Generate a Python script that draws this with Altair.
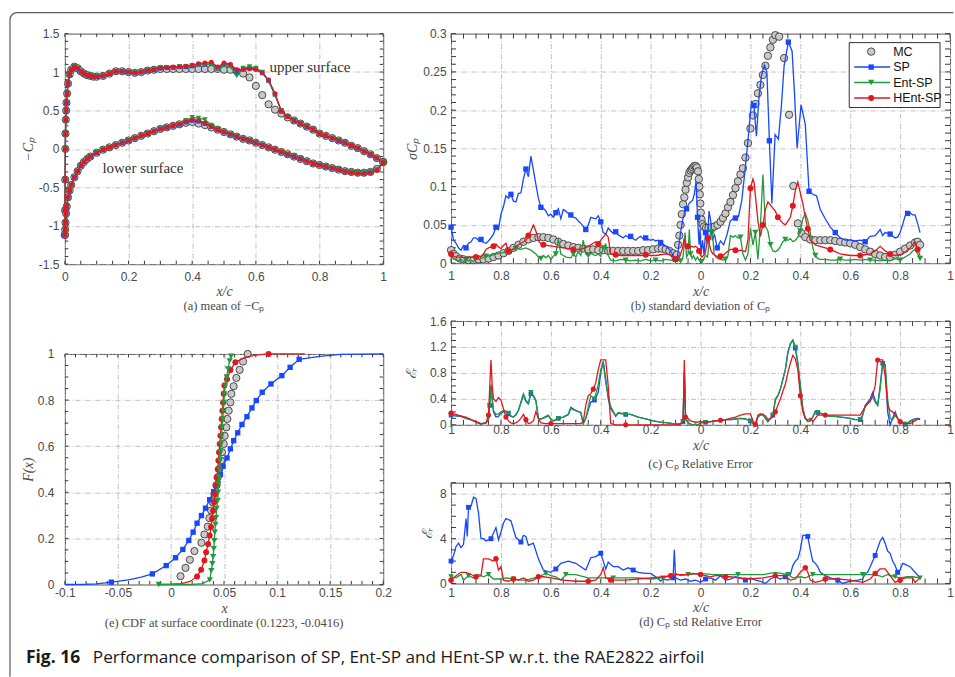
import altair as alt
import pandas as pd

# ---------------------------------------------------------------- data
SERIES = ["MC", "SP", "Ent-SP", "HEnt-SP"]

# (a) mean of -Cp, upper surface
UP_X = [0.0, 0.0005, 0.001, 0.0015, 0.002, 0.003, 0.004, 0.005, 0.007, 0.01,
        0.015, 0.02, 0.03, 0.04, 0.05, 0.06, 0.07, 0.08, 0.09, 0.1,
        0.12, 0.14, 0.16, 0.18, 0.2, 0.22, 0.24, 0.26, 0.28,
        0.3, 0.32, 0.34, 0.36, 0.38, 0.4, 0.42, 0.44, 0.46, 0.48,
        0.5, 0.52, 0.54, 0.56, 0.58, 0.6, 0.62, 0.64, 0.66, 0.68,
        0.7, 0.72, 0.74, 0.76, 0.78, 0.8, 0.82, 0.84, 0.86, 0.88,
        0.9, 0.92, 0.94, 0.96, 0.98, 1.0]
UP_FRONT = [-1.12, -0.8, -0.4, 0.0, 0.2, 0.38, 0.5, 0.6, 0.72, 0.85,
            0.97, 1.03, 1.07, 1.05, 1.01, 0.98, 0.96, 0.95, 0.94, 0.94,
            0.95, 0.98, 1.01, 1.01, 1.0, 0.99, 1.0, 1.02, 1.03]
MC_UP_AFT = [1.04, 1.04, 1.04, 1.04, 1.04, 1.04, 1.04, 1.04, 1.04, 1.04,
             1.03, 1.03, 1.01, 0.98, 0.93, 0.82, 0.70, 0.58, 0.51, 0.46,
             0.41, 0.37, 0.33, 0.29, 0.25, 0.20, 0.17, 0.14, 0.11, 0.08,
             0.04, 0.01, -0.03, -0.07, -0.12, -0.17]
SP_UP_AFT = [1.05, 1.06, 1.06, 1.07, 1.07, 1.08, 1.10, 1.10, 1.11, 1.05,
             1.10, 1.09, 1.00, 1.04, 1.05, 1.04, 0.99, 0.89, 0.71, 0.49,
             0.42, 0.37, 0.33, 0.29, 0.25, 0.20, 0.17, 0.14, 0.11, 0.08,
             0.04, 0.01, -0.03, -0.07, -0.12, -0.17]
ENT_UP_AFT = [1.05, 1.06, 1.06, 1.07, 1.07, 1.08, 1.09, 1.10, 1.10, 1.03,
              1.08, 1.07, 0.95, 1.05, 1.07, 1.05, 1.00, 0.88, 0.70, 0.50,
              0.42, 0.37, 0.33, 0.29, 0.25, 0.20, 0.17, 0.14, 0.11, 0.08,
              0.04, 0.01, -0.03, -0.07, -0.12, -0.17]
HENT_UP_AFT = [1.05, 1.06, 1.07, 1.07, 1.08, 1.09, 1.11, 1.12, 1.13, 1.07,
               1.12, 1.10, 1.03, 1.03, 1.04, 1.03, 0.99, 0.90, 0.72, 0.49,
               0.42, 0.37, 0.33, 0.29, 0.25, 0.20, 0.17, 0.14, 0.11, 0.08,
               0.04, 0.01, -0.03, -0.07, -0.12, -0.18]

# (a) mean of -Cp, lower surface
LO_X = [0.0, 0.001, 0.002, 0.004, 0.006, 0.01, 0.015, 0.02, 0.03, 0.04,
        0.05, 0.06, 0.07, 0.08, 0.1, 0.12, 0.14, 0.16, 0.18, 0.2,
        0.22, 0.24, 0.26, 0.28, 0.3, 0.32, 0.34, 0.36,
        0.38, 0.4, 0.42, 0.44, 0.46, 0.48, 0.5, 0.52, 0.54, 0.56, 0.58, 0.6,
        0.62, 0.64, 0.66, 0.68, 0.7, 0.72, 0.74, 0.76, 0.78, 0.8,
        0.82, 0.84, 0.86, 0.88, 0.9, 0.92, 0.94, 0.96, 0.98, 1.0]
LO_FRONT = [-1.12, -1.05, -0.96, -0.84, -0.75, -0.63, -0.54, -0.47, -0.37, -0.29,
            -0.22, -0.17, -0.13, -0.10, -0.05, -0.01, 0.02, 0.05, 0.08, 0.11,
            0.14, 0.17, 0.20, 0.23, 0.26, 0.28, 0.30, 0.32]
MC_LO_AFT = [0.34, 0.35, 0.33, 0.31, 0.28, 0.25, 0.22, 0.19, 0.16, 0.13, 0.11, 0.08,
             0.05, 0.02, -0.01, -0.04, -0.07, -0.10, -0.13, -0.16, -0.19, -0.21,
             -0.23, -0.25, -0.27, -0.29, -0.30, -0.31, -0.31, -0.30, -0.26, -0.17]
SP_LO_AFT = [0.35, 0.37, 0.36, 0.33, 0.29, 0.25, 0.22, 0.19, 0.16, 0.13, 0.11, 0.08,
             0.05, 0.02, -0.01, -0.04, -0.07, -0.10, -0.13, -0.16, -0.19, -0.21,
             -0.23, -0.25, -0.27, -0.29, -0.30, -0.31, -0.31, -0.30, -0.27, -0.17]
ENT_LO_AFT = [0.37, 0.41, 0.40, 0.38, 0.31, 0.26, 0.22, 0.19, 0.16, 0.13, 0.11, 0.08,
              0.05, 0.02, -0.01, -0.04, -0.07, -0.10, -0.13, -0.16, -0.19, -0.21,
              -0.23, -0.25, -0.27, -0.29, -0.30, -0.31, -0.31, -0.30, -0.27, -0.17]
HENT_LO_AFT = [0.35, 0.38, 0.37, 0.34, 0.29, 0.25, 0.22, 0.19, 0.16, 0.13, 0.11, 0.08,
               0.05, 0.02, -0.01, -0.04, -0.07, -0.10, -0.13, -0.16, -0.19, -0.21,
               -0.23, -0.25, -0.27, -0.29, -0.31, -0.32, -0.32, -0.31, -0.28, -0.18]
SURFACE_NOTES = ["upper surface", "lower surface"]
SURFACE_NOTE_X = [0.77, 0.245]
SURFACE_NOTE_Y = [1.07, -0.245]

# (b) standard deviation of Cp
MC_STD_X = [-1.0, -0.99, -0.98, -0.965, -0.95, -0.93, -0.91, -0.89, -0.87, -0.85,
            -0.83, -0.81, -0.79, -0.77, -0.75, -0.73, -0.71, -0.69, -0.67, -0.65,
            -0.63, -0.61, -0.59, -0.57, -0.55, -0.53, -0.51, -0.49, -0.47, -0.45,
            -0.43, -0.41, -0.39, -0.37, -0.35, -0.33, -0.31, -0.29, -0.27, -0.25,
            -0.23, -0.21, -0.19, -0.17, -0.155, -0.14, -0.125, -0.11, -0.1, -0.095,
            -0.09, -0.085, -0.08, -0.075, -0.07, -0.065, -0.06, -0.055, -0.05, -0.045,
            -0.04, -0.035, -0.03, -0.025, -0.02, -0.015, -0.01, -0.007, -0.005, -0.003,
            -0.001, 0.001, 0.004, 0.008, 0.014, 0.022, 0.032, 0.044, 0.056, 0.068,
            0.08, 0.09, 0.1, 0.11, 0.12, 0.13, 0.14, 0.15, 0.16, 0.17,
            0.18, 0.19, 0.2, 0.21, 0.22, 0.23, 0.24, 0.25, 0.26, 0.27,
            0.28, 0.29, 0.3, 0.315, 0.335, 0.355, 0.372, 0.39, 0.405, 0.42,
            0.44, 0.46, 0.48, 0.5, 0.52, 0.54, 0.56, 0.58, 0.6, 0.62,
            0.64, 0.66, 0.68, 0.7, 0.72, 0.74, 0.76, 0.78, 0.8, 0.82,
            0.84, 0.86, 0.87, 0.88]
MC_STD_Y = [0.017, 0.012, 0.009, 0.006, 0.005, 0.004, 0.004, 0.005, 0.005, 0.006,
            0.008, 0.010, 0.013, 0.016, 0.020, 0.024, 0.028, 0.031, 0.033, 0.034,
            0.034, 0.033, 0.031, 0.028, 0.025, 0.023, 0.021, 0.020, 0.019, 0.018,
            0.018, 0.017, 0.017, 0.016, 0.016, 0.016, 0.016, 0.016, 0.016, 0.016,
            0.017, 0.017, 0.018, 0.019, 0.019, 0.018, 0.016, 0.013, 0.007, 0.011,
            0.024, 0.036, 0.050, 0.064, 0.077, 0.086, 0.096, 0.105, 0.112, 0.118,
            0.121, 0.123, 0.125, 0.127, 0.127, 0.125, 0.120, 0.110, 0.100, 0.090,
            0.078, 0.066, 0.057, 0.051, 0.048, 0.046, 0.046, 0.047, 0.048, 0.050,
            0.054, 0.059, 0.065, 0.073, 0.080, 0.089, 0.098, 0.107, 0.116, 0.124,
            0.138, 0.157, 0.176, 0.193, 0.208, 0.222, 0.233, 0.246, 0.258, 0.271,
            0.282, 0.292, 0.298, 0.296, 0.268, 0.194, 0.101, 0.052, 0.039, 0.034,
            0.031, 0.030, 0.030, 0.030, 0.030, 0.029, 0.028, 0.027, 0.026, 0.024,
            0.021, 0.018, 0.015, 0.012, 0.010, 0.008, 0.008, 0.011, 0.015, 0.019,
            0.023, 0.027, 0.028, 0.024]
SP_STD_X = [-1.0, -0.99, -0.98, -0.97, -0.96, -0.95, -0.94, -0.93, -0.92, -0.91,
            -0.9, -0.89, -0.88, -0.87, -0.86, -0.85, -0.84, -0.83, -0.82, -0.81,
            -0.8, -0.79, -0.78, -0.77, -0.76, -0.75, -0.74, -0.73, -0.72, -0.71,
            -0.7, -0.69, -0.68, -0.67, -0.66, -0.65, -0.64, -0.63, -0.62, -0.61,
            -0.6, -0.59, -0.58, -0.57, -0.56, -0.55, -0.54, -0.53, -0.52, -0.51,
            -0.5, -0.49, -0.48, -0.47, -0.46, -0.45, -0.44, -0.43, -0.42, -0.41,
            -0.4, -0.39, -0.38, -0.37, -0.36, -0.35, -0.34, -0.33, -0.32, -0.31,
            -0.3, -0.29, -0.28, -0.27, -0.26, -0.25, -0.24, -0.23, -0.22, -0.21,
            -0.2, -0.19, -0.18, -0.17, -0.16, -0.15, -0.14, -0.13, -0.12, -0.11,
            -0.1, -0.095, -0.088, -0.08, -0.072, -0.064, -0.056, -0.048, -0.04, -0.032,
            -0.025, -0.018, -0.012, -0.006, -0.002, 0.002, 0.008, 0.014, 0.02, 0.027,
            0.034, 0.041, 0.047, 0.056, 0.067, 0.08, 0.093, 0.106, 0.119, 0.13,
            0.14, 0.152, 0.165, 0.178, 0.191, 0.204, 0.214, 0.224, 0.234, 0.244,
            0.256, 0.266, 0.276, 0.286, 0.299, 0.312, 0.324, 0.335, 0.352, 0.367,
            0.377, 0.387, 0.403, 0.42, 0.435, 0.45, 0.465, 0.48, 0.5, 0.52,
            0.54, 0.56, 0.58, 0.6, 0.62, 0.64, 0.66, 0.68, 0.7, 0.72,
            0.73, 0.74, 0.76, 0.78, 0.79, 0.8, 0.81, 0.82, 0.83, 0.84,
            0.85, 0.86, 0.87, 0.88]
SP_STD_Y = [0.047, 0.030, 0.026, 0.020, 0.017, 0.023, 0.020, 0.026, 0.028, 0.033,
            0.033, 0.030, 0.031, 0.027, 0.026, 0.029, 0.033, 0.038, 0.047, 0.044,
            0.064, 0.074, 0.088, 0.085, 0.090, 0.081, 0.080, 0.091, 0.092, 0.110,
            0.123, 0.113, 0.140, 0.122, 0.103, 0.085, 0.073, 0.072, 0.068, 0.062,
            0.064, 0.060, 0.066, 0.071, 0.058, 0.070, 0.068, 0.065, 0.063, 0.060,
            0.059, 0.055, 0.052, 0.048, 0.044, 0.050, 0.060, 0.059, 0.058, 0.062,
            0.054, 0.040, 0.038, 0.046, 0.042, 0.039, 0.041, 0.037, 0.035, 0.033,
            0.036, 0.034, 0.035, 0.032, 0.030, 0.033, 0.035, 0.032, 0.033, 0.031,
            0.030, 0.031, 0.029, 0.030, 0.027, 0.025, 0.022, 0.020, 0.016, 0.010,
            0.005, 0.003, 0.020, 0.040, 0.056, 0.066, 0.071, 0.077, 0.080, 0.082,
            0.090, 0.107, 0.060, 0.024, 0.045, 0.011, 0.030, 0.011, 0.040, 0.025,
            0.068, 0.055, 0.030, 0.037, 0.020, 0.029, 0.024, 0.037, 0.055, 0.058,
            0.059, 0.061, 0.081, 0.120, 0.163, 0.211, 0.206, 0.166, 0.215, 0.245,
            0.259, 0.250, 0.160, 0.078, 0.168, 0.162, 0.205, 0.258, 0.289, 0.277,
            0.220, 0.150, 0.207, 0.181, 0.094, 0.090, 0.088, 0.070, 0.058, 0.047,
            0.040, 0.033, 0.030, 0.030, 0.029, 0.030, 0.028, 0.035, 0.036, 0.044,
            0.036, 0.040, 0.038, 0.033, 0.034, 0.040, 0.050, 0.062, 0.065, 0.066,
            0.063, 0.063, 0.052, 0.040]
ENT_STD_X = [-1.0, -0.99, -0.98, -0.97, -0.96, -0.95, -0.94, -0.93, -0.92, -0.91,
             -0.9, -0.88, -0.86, -0.84, -0.82, -0.8, -0.78, -0.76, -0.74, -0.72,
             -0.7, -0.68, -0.66, -0.65, -0.64, -0.63, -0.62, -0.61, -0.6, -0.59,
             -0.58, -0.57, -0.56, -0.55, -0.54, -0.52, -0.51, -0.5, -0.49, -0.48,
             -0.47, -0.46, -0.45, -0.44, -0.43, -0.42, -0.41, -0.4, -0.39, -0.38,
             -0.37, -0.36, -0.34, -0.32, -0.3, -0.28, -0.26, -0.24, -0.22, -0.2,
             -0.18, -0.16, -0.14, -0.12, -0.1, -0.09, -0.08, -0.07, -0.062, -0.056,
             -0.05, -0.045, -0.04, -0.034, -0.028, -0.02, -0.012, -0.004, 0.004, 0.012,
             0.02, 0.028, 0.036, 0.042, 0.048, 0.054, 0.062, 0.07, 0.08, 0.09,
             0.1, 0.11, 0.12, 0.13, 0.14, 0.15, 0.16, 0.17, 0.18, 0.19,
             0.2, 0.21, 0.22, 0.23, 0.24, 0.25, 0.26, 0.27, 0.28, 0.29,
             0.3, 0.31, 0.32, 0.33, 0.34, 0.35, 0.36, 0.37, 0.38, 0.39,
             0.4, 0.41, 0.42, 0.43, 0.44, 0.45, 0.46, 0.47, 0.48, 0.5,
             0.52, 0.54, 0.56, 0.58, 0.6, 0.62, 0.64, 0.66, 0.68, 0.7,
             0.72, 0.74, 0.76, 0.78, 0.8, 0.82, 0.84, 0.85, 0.86, 0.87,
             0.88]
ENT_STD_Y = [0.010, 0.006, 0.004, 0.003, 0.005, 0.002, 0.004, 0.003, 0.004, 0.002,
             0.005, 0.006, 0.009, 0.010, 0.012, 0.013, 0.015, 0.017, 0.019, 0.018,
             0.020, 0.017, 0.012, 0.008, 0.006, 0.010, 0.007, 0.010, 0.005, 0.009,
             0.012, 0.032, 0.012, 0.010, 0.008, 0.007, 0.012, 0.008, 0.015, 0.010,
             0.030, 0.012, 0.010, 0.013, 0.011, 0.010, 0.012, 0.009, 0.020, 0.025,
             0.010, 0.004, 0.003, 0.005, 0.004, 0.003, 0.004, 0.003, 0.005, 0.003,
             0.004, 0.003, 0.005, 0.004, 0.002, 0.004, 0.003, 0.008, 0.040, 0.008,
             0.012, 0.044, 0.012, 0.006, 0.010, 0.004, 0.008, 0.003, 0.002, 0.005,
             0.010, 0.008, 0.030, 0.046, 0.040, 0.012, 0.008, 0.006, 0.005, 0.004,
             0.005, 0.010, 0.036, 0.034, 0.036, 0.033, 0.034, 0.012, 0.004, 0.012,
             0.046, 0.024, 0.040, 0.005, 0.048, 0.116, 0.048, 0.042, 0.024, 0.016,
             0.015, 0.017, 0.022, 0.028, 0.031, 0.030, 0.032, 0.028, 0.030, 0.034,
             0.042, 0.058, 0.065, 0.056, 0.040, 0.020, 0.010, 0.006, 0.005, 0.005,
             0.004, 0.004, 0.005, 0.004, 0.004, 0.005, 0.004, 0.005, 0.004, 0.004,
             0.003, 0.004, 0.003, 0.006, 0.004, 0.008, 0.012, 0.016, 0.018, 0.012,
             0.006]
HENT_STD_X = [-1.0, -0.99, -0.98, -0.96, -0.94, -0.92, -0.9, -0.88, -0.87, -0.86,
              -0.85, -0.84, -0.83, -0.82, -0.81, -0.8, -0.79, -0.78, -0.77, -0.76,
              -0.75, -0.74, -0.72, -0.7, -0.69, -0.68, -0.67, -0.66, -0.65, -0.64,
              -0.63, -0.61, -0.59, -0.57, -0.55, -0.53, -0.51, -0.49, -0.47, -0.45,
              -0.43, -0.42, -0.41, -0.4, -0.39, -0.38, -0.37, -0.36, -0.34, -0.32,
              -0.3, -0.28, -0.26, -0.24, -0.22, -0.2, -0.18, -0.16, -0.14, -0.12,
              -0.1, -0.09, -0.08, -0.072, -0.066, -0.06, -0.052, -0.044, -0.036, -0.028,
              -0.02, -0.012, -0.006, 0.0, 0.006, 0.012, 0.018, 0.024, 0.03, 0.036,
              0.042, 0.05, 0.06, 0.07, 0.08, 0.09, 0.1, 0.11, 0.12, 0.13,
              0.14, 0.15, 0.16, 0.17, 0.18, 0.19, 0.2, 0.21, 0.215, 0.22,
              0.23, 0.24, 0.25, 0.26, 0.27, 0.28, 0.29, 0.3, 0.31, 0.32,
              0.33, 0.34, 0.35, 0.36, 0.37, 0.38, 0.39, 0.4, 0.41, 0.42,
              0.43, 0.44, 0.45, 0.46, 0.48, 0.5, 0.52, 0.54, 0.56, 0.58,
              0.6, 0.62, 0.64, 0.66, 0.68, 0.7, 0.72, 0.74, 0.76, 0.78,
              0.8, 0.82, 0.84, 0.86, 0.87, 0.88]
HENT_STD_Y = [0.012, 0.009, 0.008, 0.008, 0.007, 0.008, 0.008, 0.009, 0.012, 0.018,
              0.020, 0.021, 0.022, 0.025, 0.021, 0.019, 0.023, 0.026, 0.016, 0.016,
              0.019, 0.022, 0.026, 0.030, 0.036, 0.042, 0.050, 0.042, 0.030, 0.025,
              0.024, 0.023, 0.022, 0.021, 0.020, 0.019, 0.018, 0.018, 0.019, 0.022,
              0.026, 0.028, 0.025, 0.030, 0.034, 0.038, 0.034, 0.012, 0.011, 0.010,
              0.010, 0.010, 0.010, 0.010, 0.011, 0.010, 0.010, 0.011, 0.012, 0.011,
              0.005, 0.008, 0.012, 0.020, 0.032, 0.020, 0.022, 0.020, 0.022, 0.021,
              0.022, 0.020, 0.016, 0.010, 0.008, 0.010, 0.012, 0.022, 0.033, 0.024,
              0.016, 0.012, 0.010, 0.008, 0.009, 0.010, 0.013, 0.016, 0.018, 0.018,
              0.017, 0.016, 0.017, 0.016, 0.015, 0.030, 0.098, 0.110, 0.105, 0.088,
              0.055, 0.035, 0.050, 0.070, 0.080, 0.076, 0.072, 0.068, 0.060, 0.056,
              0.052, 0.050, 0.055, 0.060, 0.075, 0.095, 0.106, 0.092, 0.078, 0.060,
              0.045, 0.030, 0.027, 0.024, 0.022, 0.020, 0.018, 0.015, 0.012, 0.011,
              0.010, 0.010, 0.010, 0.011, 0.012, 0.016, 0.022, 0.016, 0.012, 0.010,
              0.011, 0.014, 0.020, 0.028, 0.018, 0.010]

# (c) Cp relative error
CPERR_X = [-1.0, -0.98, -0.96, -0.94, -0.92, -0.9, -0.88, -0.86, -0.85, -0.845,
           -0.84, -0.835, -0.83, -0.82, -0.81, -0.8, -0.79, -0.78, -0.77, -0.76,
           -0.75, -0.74, -0.73, -0.72, -0.71, -0.7, -0.69, -0.68, -0.67, -0.66,
           -0.65, -0.64, -0.62, -0.61, -0.6, -0.59, -0.57, -0.55, -0.53, -0.52,
           -0.5, -0.48, -0.47, -0.46, -0.44, -0.425, -0.41, -0.4, -0.39, -0.38,
           -0.37, -0.36, -0.34, -0.33, -0.3, -0.28, -0.25, -0.22, -0.19, -0.16,
           -0.13, -0.1, -0.08, -0.07, -0.065, -0.06, -0.05, -0.04, -0.03, -0.02,
           -0.01, 0.0, 0.02, 0.04, 0.06, 0.08, 0.1, 0.12, 0.14, 0.16,
           0.18, 0.2, 0.21, 0.22, 0.23, 0.24, 0.25, 0.26, 0.27, 0.28,
           0.29, 0.3, 0.31, 0.32, 0.33, 0.34, 0.35, 0.36, 0.37, 0.38,
           0.39, 0.4, 0.41, 0.42, 0.43, 0.44, 0.45, 0.46, 0.47, 0.48,
           0.5, 0.52, 0.54, 0.56, 0.58, 0.6, 0.62, 0.64, 0.65, 0.66,
           0.67, 0.68, 0.69, 0.7, 0.71, 0.72, 0.73, 0.74, 0.75, 0.76,
           0.77, 0.78, 0.79, 0.8, 0.81, 0.82, 0.83, 0.84, 0.85, 0.86,
           0.87, 0.88]
SP_CPERR_Y = [0.15, 0.14, 0.13, 0.10, 0.08, 0.04, 0.01, 0.03, 0.08, 0.30,
              0.60, 0.40, 0.20, 0.12, 0.13, 0.18, 0.20, 0.20, 0.17, 0.13,
              0.12, 0.15, 0.22, 0.34, 0.46, 0.36, 0.32, 0.48, 0.44, 0.37,
              0.10, 0.09, 0.12, 0.14, 0.09, 0.06, 0.10, 0.12, 0.16, 0.27,
              0.22, 0.19, 0.02, 0.10, 0.35, 0.38, 0.50, 0.80, 0.98, 0.70,
              0.40, 0.25, 0.13, 0.18, 0.16, 0.16, 0.12, 0.09, 0.06, 0.04,
              0.03, 0.01, 0.02, 0.05, 0.80, 0.10, 0.03, 0.01, 0.00, 0.01,
              0.00, 0.03, 0.04, 0.05, 0.06, 0.07, 0.08, 0.08, 0.09, 0.10,
              0.09, 0.06, 0.02, 0.00, 0.12, 0.15, 0.16, 0.10, 0.05, 0.10,
              0.15, 0.38, 0.45, 0.55, 0.70, 0.85, 1.12, 1.25, 1.30, 1.18,
              0.95, 0.60, 0.25, 0.10, 0.05, 0.06, 0.12, 0.21, 0.19, 0.18,
              0.15, 0.13, 0.13, 0.12, 0.11, 0.10, 0.08, 0.08, 0.15, 0.30,
              0.35, 0.40, 0.50, 0.38, 0.30, 0.60, 0.95, 0.92, 0.20, 0.00,
              0.10, 0.20, 0.10, 0.05, 0.02, 0.01, 0.02, 0.06, 0.08, 0.09,
              0.10, 0.09]
ENT_CPERR_Y = [0.15, 0.14, 0.14, 0.10, 0.08, 0.04, 0.01, 0.03, 0.08, 0.30,
               0.62, 0.40, 0.22, 0.16, 0.17, 0.20, 0.22, 0.21, 0.18, 0.14,
               0.12, 0.16, 0.22, 0.35, 0.48, 0.38, 0.33, 0.50, 0.45, 0.38,
               0.10, 0.09, 0.13, 0.15, 0.09, 0.06, 0.10, 0.12, 0.16, 0.25,
               0.22, 0.19, 0.02, 0.10, 0.45, 0.40, 0.62, 0.85, 0.96, 0.65,
               0.45, 0.28, 0.14, 0.19, 0.16, 0.16, 0.12, 0.09, 0.06, 0.04,
               0.03, 0.01, 0.02, 0.05, 0.82, 0.10, 0.03, 0.01, 0.00, 0.01,
               0.00, 0.03, 0.04, 0.05, 0.06, 0.07, 0.08, 0.08, 0.09, 0.10,
               0.09, 0.06, 0.02, 0.00, 0.13, 0.15, 0.17, 0.10, 0.05, 0.10,
               0.15, 0.40, 0.45, 0.55, 0.70, 0.85, 1.10, 1.25, 1.31, 1.20,
               0.95, 0.60, 0.25, 0.10, 0.05, 0.06, 0.12, 0.20, 0.19, 0.18,
               0.15, 0.13, 0.13, 0.12, 0.11, 0.10, 0.08, 0.08, 0.15, 0.28,
               0.33, 0.38, 0.44, 0.35, 0.30, 0.55, 0.95, 0.93, 0.40, 0.10,
               0.08, 0.15, 0.10, 0.05, 0.02, 0.01, 0.02, 0.05, 0.07, 0.08,
               0.09, 0.08]
HENT_CPERR_X = [-1.0, -0.98, -0.96, -0.94, -0.92, -0.9, -0.88, -0.86, -0.85, -0.84,
                -0.835, -0.83, -0.82, -0.81, -0.8, -0.79, -0.78, -0.77, -0.76, -0.75,
                -0.74, -0.73, -0.72, -0.71, -0.7, -0.69, -0.68, -0.67, -0.66, -0.65,
                -0.64, -0.62, -0.6, -0.56, -0.52, -0.48, -0.47, -0.46, -0.45, -0.44,
                -0.43, -0.42, -0.41, -0.4, -0.38, -0.37, -0.36, -0.34, -0.3, -0.26,
                -0.2, -0.15, -0.1, -0.08, -0.07, -0.065, -0.06, -0.05, -0.04, -0.02,
                0.0, 0.02, 0.04, 0.06, 0.08, 0.1, 0.12, 0.14, 0.16, 0.18,
                0.2, 0.21, 0.22, 0.23, 0.24, 0.25, 0.26, 0.27, 0.28, 0.29,
                0.3, 0.32, 0.34, 0.35, 0.36, 0.37, 0.38, 0.39, 0.4, 0.41,
                0.42, 0.43, 0.44, 0.45, 0.46, 0.47, 0.5, 0.55, 0.6, 0.64,
                0.66, 0.68, 0.69, 0.7, 0.71, 0.73, 0.74, 0.75, 0.76, 0.77,
                0.78, 0.79, 0.8, 0.82, 0.84, 0.86, 0.87, 0.88]
HENT_CPERR_Y = [0.18, 0.16, 0.13, 0.12, 0.08, 0.05, 0.02, 0.03, 0.15, 1.00,
                0.60, 0.40, 0.36, 0.42, 0.38, 0.25, 0.12, 0.06, 0.03, 0.02,
                0.03, 0.06, 0.10, 0.16, 0.08, 0.02, 0.03, 0.06, 0.20, 0.10,
                0.03, 0.02, 0.02, 0.02, 0.02, 0.02, 0.05, 0.30, 0.45, 0.48,
                0.55, 0.65, 0.85, 1.00, 1.00, 0.60, 0.02, 0.00, 0.00, 0.00,
                0.00, 0.00, 0.00, 0.01, 0.03, 1.00, 0.12, 0.10, 0.06, 0.04,
                0.05, 0.04, 0.05, 0.06, 0.07, 0.08, 0.10, 0.12, 0.15, 0.17,
                0.17, 0.06, 0.01, 0.15, 0.17, 0.15, 0.14, 0.08, 0.10, 0.12,
                0.20, 0.40, 0.63, 0.80, 0.95, 1.07, 1.02, 0.85, 0.45, 0.20,
                0.10, 0.07, 0.10, 0.05, 0.10, 0.15, 0.15, 0.15, 0.15, 0.15,
                0.28, 0.36, 0.45, 0.60, 1.00, 1.00, 0.75, 0.30, 0.22, 0.20,
                0.15, 0.10, 0.05, 0.02, 0.02, 0.06, 0.09, 0.08]

# (d) Cp std relative error
SP_STDERR_X = [-1.0, -0.99, -0.98, -0.97, -0.96, -0.95, -0.94, -0.935, -0.93, -0.92,
               -0.91, -0.9, -0.89, -0.88, -0.87, -0.86, -0.84, -0.82, -0.81, -0.8,
               -0.79, -0.78, -0.76, -0.74, -0.72, -0.71, -0.7, -0.69, -0.67, -0.65,
               -0.63, -0.6, -0.58, -0.56, -0.53, -0.5, -0.48, -0.46, -0.44, -0.42,
               -0.4, -0.39, -0.38, -0.37, -0.35, -0.33, -0.31, -0.29, -0.27, -0.25,
               -0.22, -0.2, -0.18, -0.16, -0.15, -0.13, -0.11, -0.105, -0.1, -0.08,
               -0.06, -0.04, -0.02, 0.0, 0.02, 0.04, 0.06, 0.08, 0.1, 0.12,
               0.14, 0.16, 0.18, 0.2, 0.22, 0.24, 0.26, 0.28, 0.3, 0.32,
               0.34, 0.36, 0.37, 0.38, 0.39, 0.4, 0.41, 0.42, 0.43, 0.44,
               0.45, 0.46, 0.47, 0.48, 0.5, 0.52, 0.55, 0.57, 0.6, 0.63,
               0.65, 0.66, 0.67, 0.68, 0.7, 0.72, 0.73, 0.74, 0.75, 0.76,
               0.77, 0.78, 0.79, 0.8, 0.81, 0.82, 0.84, 0.86, 0.88]
SP_STDERR_Y = [2.0, 2.5, 3.3, 3.6, 3.2, 3.5, 5.8, 4.2, 6.8, 6.9,
               7.7, 7.6, 6.3, 4.0, 4.0, 3.8, 4.0, 5.0, 3.9, 4.6,
               5.4, 5.8, 5.6, 4.1, 3.7, 4.3, 4.2, 3.4, 3.6, 2.2,
               1.2, 1.0, 1.3, 1.8, 2.0, 1.8, 1.5, 1.2, 2.3, 2.4,
               2.7, 2.0, 1.3, 1.9, 1.5, 1.5, 1.2, 1.4, 1.2, 1.0,
               0.9, 0.9, 0.6, 0.2, 0.4, 0.3, 0.5, 3.0, 0.5, 0.3,
               0.4, 0.2, 0.3, 0.1, 0.4, 0.5, 0.3, 0.7, 0.3, 0.4,
               0.6, 0.5, 0.3, 0.5, 0.3, 0.2, 0.0, 0.4, 0.6, 0.4,
               0.6, 0.8, 1.6, 2.0, 2.2, 3.0, 4.3, 4.3, 4.2, 3.0,
               2.0, 1.8, 1.5, 1.0, 0.7, 0.5, 0.3, 0.0, 0.2, 0.3,
               0.4, 0.9, 1.0, 1.5, 2.5, 3.8, 4.1, 3.6, 2.9, 2.7,
               2.0, 1.6, 1.0, 1.2, 1.8, 1.7, 1.5, 1.0, 0.5]
ENT_STDERR_X = [-1.0, -0.98, -0.96, -0.95, -0.93, -0.91, -0.89, -0.87, -0.85, -0.83,
                -0.8, -0.78, -0.75, -0.72, -0.7, -0.65, -0.62, -0.6, -0.58, -0.56,
                -0.54, -0.5, -0.45, -0.4, -0.35, -0.3, -0.25, -0.2, -0.15, -0.12,
                -0.1, -0.08, -0.05, 0.0, 0.05, 0.1, 0.15, 0.2, 0.25, 0.3,
                0.35, 0.37, 0.4, 0.42, 0.45, 0.5, 0.55, 0.6, 0.65, 0.7,
                0.73, 0.75, 0.78, 0.8, 0.83, 0.85, 0.88]
ENT_STDERR_Y = [0.6, 0.5, 0.8, 0.3, 0.7, 0.5, 0.8, 0.6, 0.8, 0.4,
                0.4, 0.5, 0.4, 0.3, 0.3, 0.6, 0.9, 0.7, 0.6, 0.3,
                0.8, 0.8, 0.5, 0.5, 0.5, 0.5, 0.5, 0.4, 0.5, 0.7,
                0.9, 0.7, 0.8, 0.9, 0.8, 0.8, 0.8, 0.8, 0.8, 1.0,
                0.8, 0.5, 0.6, 0.5, 0.8, 0.8, 0.8, 0.8, 0.8, 0.8,
                0.6, 0.8, 0.6, 0.5, 0.6, 0.6, 0.5]
HENT_STDERR_X = [-1.0, -0.98, -0.96, -0.94, -0.92, -0.9, -0.88, -0.87, -0.85, -0.83,
                 -0.82, -0.81, -0.8, -0.79, -0.77, -0.75, -0.73, -0.71, -0.69, -0.67,
                 -0.65, -0.63, -0.6, -0.55, -0.5, -0.45, -0.42, -0.4, -0.39, -0.38,
                 -0.36, -0.3, -0.25, -0.2, -0.15, -0.12, -0.1, -0.08, -0.05, -0.03,
                 0.0, 0.02, 0.04, 0.06, 0.08, 0.1, 0.12, 0.15, 0.2, 0.25,
                 0.3, 0.34, 0.36, 0.38, 0.4, 0.42, 0.43, 0.44, 0.46, 0.48,
                 0.5, 0.55, 0.6, 0.65, 0.68, 0.7, 0.72, 0.74, 0.76, 0.78,
                 0.8, 0.82, 0.85, 0.86, 0.88]
HENT_STDERR_Y = [0.3, 0.7, 1.0, 1.0, 0.8, 0.6, 0.7, 2.2, 2.2, 2.0,
                 2.2, 1.2, 1.5, 0.3, 0.2, 0.4, 0.3, 0.5, 0.2, 0.3,
                 0.6, 0.6, 0.5, 0.3, 0.2, 0.2, 0.3, 0.8, 1.4, 0.5,
                 0.3, 0.3, 0.4, 0.5, 0.6, 0.7, 0.8, 0.8, 0.8, 0.9,
                 0.8, 0.7, 0.6, 0.7, 0.7, 0.6, 0.6, 0.5, 0.4, 0.5,
                 0.7, 0.7, 0.3, 0.4, 1.0, 1.4, 1.0, 0.3, 0.1, 0.2,
                 0.4, 0.4, 0.3, 0.1, 0.4, 0.9, 1.3, 1.3, 0.7, 0.1,
                 0.3, 0.5, 0.5, 0.1, 0.5]

# (e) CDF at surface coordinate (0.1223, -0.0416)
MC_CDF_X = [0.009, 0.0137, 0.0178, 0.0221, 0.0287, 0.0315, 0.0347, 0.0362, 0.0378, 0.0394,
            0.0409, 0.0428, 0.0441, 0.0456, 0.0472, 0.0481, 0.0497, 0.0506, 0.0522, 0.0531,
            0.0544, 0.056, 0.0569, 0.0591, 0.0616, 0.0647, 0.0679, 0.0723]
MC_CDF_Y = [0.036, 0.072, 0.107, 0.145, 0.181, 0.217, 0.251, 0.288, 0.321, 0.357,
            0.393, 0.430, 0.465, 0.501, 0.538, 0.574, 0.610, 0.645, 0.682, 0.718,
            0.754, 0.790, 0.827, 0.860, 0.896, 0.931, 0.967, 1.0]
SP_CDF_X = [-0.0562, -0.0176, -0.0045, 0.0043, 0.0112, 0.0168, 0.0209, 0.0246, 0.0287, 0.0325,
            0.0365, 0.0403, 0.044, 0.0466, 0.0491, 0.0528, 0.056, 0.0591, 0.0629, 0.0669,
            0.0716, 0.0763, 0.0804, 0.086, 0.0942, 0.1045, 0.1123, 0.1208]
SP_CDF_Y = [0.010, 0.046, 0.082, 0.116, 0.152, 0.191, 0.227, 0.266, 0.299, 0.331,
            0.368, 0.403, 0.439, 0.477, 0.513, 0.549, 0.588, 0.624, 0.658, 0.694,
            0.728, 0.766, 0.798, 0.834, 0.870, 0.906, 0.942, 0.977]
SP_CDF_LINE_X = [-0.1, -0.08, -0.07, -0.04, -0.028, 0.14, 0.16, 0.2]
SP_CDF_LINE_Y = [0.0, 0.001, 0.003, 0.020, 0.032, 0.990, 0.998, 1.0]
ENT_CDF_X = [-0.0115, 0.0366, 0.038, 0.039, 0.0397, 0.0403, 0.0408, 0.0413, 0.0419, 0.0425,
             0.043, 0.0441, 0.0444, 0.0447, 0.0451, 0.0456, 0.0461, 0.0466, 0.0471, 0.0476,
             0.0482, 0.0488, 0.0493, 0.0497, 0.0503, 0.0513, 0.0525, 0.0538, 0.0553, 0.0566]
ENT_CDF_Y = [0.0, 0.02, 0.06, 0.09, 0.12, 0.155, 0.19, 0.227, 0.26, 0.29,
             0.33, 0.364, 0.40, 0.436, 0.465, 0.50, 0.538, 0.574, 0.61, 0.645,
             0.682, 0.718, 0.754, 0.79, 0.827, 0.863, 0.90, 0.935, 0.97, 0.99]
ENT_CDF_LINE_X = [0.0, 0.02, 0.03]
ENT_CDF_LINE_Y = [0.0, 0.0, 0.004]
HENT_CDF_X = [0.0246, 0.0284, 0.0315, 0.0331, 0.035, 0.0365, 0.0378, 0.0387, 0.0397, 0.0406,
              0.0416, 0.0425, 0.0431, 0.0441, 0.0447, 0.0453, 0.0459, 0.0466, 0.0472, 0.0478,
              0.0484, 0.0491, 0.0497, 0.0503, 0.0528, 0.056, 0.0607, 0.092]
HENT_CDF_Y = [0.035, 0.064, 0.104, 0.14, 0.176, 0.212, 0.249, 0.285, 0.32, 0.357,
              0.393, 0.43, 0.465, 0.50, 0.538, 0.574, 0.61, 0.645, 0.682, 0.718,
              0.754, 0.79, 0.827, 0.863, 0.89, 0.93, 0.964, 1.0]
HENT_CDF_LINE_X = [-0.013, 0.0, 0.01, 0.018, 0.07, 0.08, 0.126]
HENT_CDF_LINE_Y = [0.0, 0.001, 0.004, 0.013, 0.985, 0.995, 1.0]

FIG_LABEL = "Fig. 16"
FIG_TEXT = "Performance comparison of SP, Ent-SP and HEnt-SP w.r.t. the RAE2822 airfoil"

# ---------------------------------------------------------------- style
BLUE, GREEN, RED = "#1747ff", "#1f9a3c", "#e3171d"
MC_FILL, MC_EDGE = "#c9c9c9", "#3a3a3a"
FRAME, GRID, INK = "#4d4d4d", "#b3b3b3", "#4a4a4a"
TICK = "#3a3a3a"
BORDER = "#5a5a5a"
SANS, SERIF, CAPFONT = "Liberation Sans", "Liberation Serif", "Open Sans"
COLORS = {"SP": BLUE, "Ent-SP": GREEN, "HEnt-SP": RED}
SHAPES = {"MC": "circle", "SP": "square", "Ent-SP": "triangle-down", "HEnt-SP": "circle"}
SIZE_K = {"MC": 1.45, "SP": 0.8, "Ent-SP": 1.1, "HEnt-SP": 1.0}


def frame_df(xs, ys, **extra):
    assert len(xs) == len(ys)
    d = pd.DataFrame({"x": xs, "y": ys})
    for k, v in extra.items():
        d[k] = v
    return d


def scale(dom):
    return alt.Scale(domain=dom, nice=False, zero=False)


def _axis(values, title, expr, pad, **kw):
    return alt.Axis(values=values, grid=True, gridColor=GRID, gridDash=[5, 2, 1, 2],
                    gridWidth=0.8, ticks=False, domain=False, labelFont=SANS,
                    labelFontSize=12, labelColor=INK, labelPadding=pad, labelFlush=False,
                    labelOverlap=False, labelExpr=expr, title=title, titleFont=SERIF,
                    titleFontSize=14, titleFontStyle="italic", titleFontWeight="normal",
                    titleColor=INK, titleBaseline="middle", **kw)


def x_axis(values, title, expr, pad, title_y):
    return _axis(values, title, expr, pad, titleY=title_y)


def y_axis(values, title, expr, title_x, h, pad=5):
    return _axis(values, title, expr, pad, titleX=title_x, titleY=h / 2, titleAngle=270,
                 titleAlign="center")


class Panel:
    """One boxed MATLAB-style axes: shared scales, axes on every layer, inward frame ticks."""

    def __init__(self, w, h, xdom, ydom, xa, ya):
        self.w, self.h = w, h
        self.xs, self.ys = scale(xdom), scale(ydom)
        self.xa, self.ya = xa, ya
        self.layers = []

    def X(self, f="x:Q"):
        return alt.X(f, scale=self.xs, axis=self.xa)

    def Y(self, f="y:Q"):
        return alt.Y(f, scale=self.ys, axis=self.ya)

    def ticks(self, xt, yt, length):
        dx, dy = pd.DataFrame({"x": xt}), pd.DataFrame({"y": yt})
        st = dict(color=TICK, strokeWidth=1)
        w, h = self.w, self.h
        self.layers += [
            alt.Chart(dx).mark_rule(**st).encode(x=self.X(), y=alt.value(0), y2=alt.value(length)),
            alt.Chart(dx).mark_rule(**st).encode(x=self.X(), y=alt.value(h), y2=alt.value(h - length)),
            alt.Chart(dy).mark_rule(**st).encode(y=self.Y(), x=alt.value(0), x2=alt.value(length)),
            alt.Chart(dy).mark_rule(**st).encode(y=self.Y(), x=alt.value(w), x2=alt.value(w - length)),
        ]

    def series(self, df, name, size, step=1, line=True, lw=1.3, detail=None, line_df=None,
               size_k=None):
        enc = dict(x=self.X(), y=self.Y())
        if line and name != "MC":
            ldf = df if line_df is None else line_df
            le = dict(enc)
            if detail:
                le["detail"] = alt.Detail(detail + ":N")
            self.layers.append(
                alt.Chart(ldf).mark_line(color=COLORS[name], strokeWidth=lw).encode(**le))
        mdf = df.iloc[::step] if step > 1 else df
        s = size * (size_k if size_k is not None else SIZE_K[name])
        if name == "MC":
            m = alt.Chart(mdf).mark_point(shape="circle", filled=True, fill=MC_FILL,
                                          stroke=MC_EDGE, strokeWidth=0.9, size=s, opacity=1)
        else:
            m = alt.Chart(mdf).mark_point(shape=SHAPES[name], filled=True, color=COLORS[name],
                                          size=s, opacity=1)
        self.layers.append(m.encode(**enc))

    def caption(self, text, dy):
        d = pd.DataFrame({"t": [text]})
        self.layers.append(alt.Chart(d).mark_text(font=SERIF, fontSize=12.5, color=INK,
                                                  baseline="middle").encode(
            x=alt.value(self.w / 2), y=alt.value(self.h + dy), text="t:N"))

    def chart(self):
        return alt.layer(*self.layers).properties(width=self.w, height=self.h)


def seq(a, b, step):
    n = int(round((b - a) / step))
    return [round(a + i * step, 4) for i in range(n + 1)]


ONE = pd.DataFrame({"k": [0]})
ABS_EXPR = "'' + abs(datum.value)"
PLAIN_EXPR = "'' + datum.value"
SURF_X = [-1, -0.8, -0.6, -0.4, -0.2, 0, 0.2, 0.4, 0.6, 0.8, 1]

# ---------------------------------------------------------------- (a)
WA, HA = 319, 231
pa = Panel(WA, HA, [0, 1], [-1.5, 1.5],
           x_axis([0, 0.2, 0.4, 0.6, 0.8, 1], "x/c", PLAIN_EXPR, 7, 27),
           y_axis([-1.5, -1, -0.5, 0, 0.5, 1, 1.5], "−Cₚ", PLAIN_EXPR, -36, HA, pad=6))
pa.ticks(seq(0, 1, 0.05), seq(-1.5, 1.5, 0.1), 3.5)
surf = ["upper"] * len(UP_X) + ["lower"] * len(LO_X)
a_data = {
    "MC": UP_FRONT + MC_UP_AFT + LO_FRONT + MC_LO_AFT,
    "SP": UP_FRONT + SP_UP_AFT + LO_FRONT + SP_LO_AFT,
    "Ent-SP": UP_FRONT + ENT_UP_AFT + LO_FRONT + ENT_LO_AFT,
    "HEnt-SP": UP_FRONT + HENT_UP_AFT + LO_FRONT + HENT_LO_AFT,
}
A_MARK_K = {"MC": 1.75, "SP": 0.75, "Ent-SP": 1.0, "HEnt-SP": 0.7}
for nm in SERIES:
    pa.series(frame_df(UP_X + LO_X, a_data[nm], surf=surf), nm, 30, detail="surf",
              size_k=A_MARK_K[nm])
notes = pd.DataFrame({"x": SURFACE_NOTE_X, "y": SURFACE_NOTE_Y, "t": SURFACE_NOTES})
pa.layers.append(alt.Chart(notes).mark_text(font=SERIF, fontSize=15, color="#333333").encode(
    x=pa.X(), y=pa.Y(), text="t:N"))
pa.caption("(a) mean of −Cₚ", 42)
# rounded outer border of the figure: top edge, left edge and the top-left corner
pa.layers += [
    alt.Chart(ONE).mark_rule(color=BORDER, strokeWidth=1.2).encode(
        x=alt.value(-48), x2=alt.value(890.4), y=alt.value(-21)),
    alt.Chart(ONE).mark_rule(color=BORDER, strokeWidth=1.2).encode(
        x=alt.value(-55), y=alt.value(-14), y2=alt.value(644.4)),
    alt.Chart(ONE).mark_arc(color=BORDER, innerRadius=6.4, outerRadius=7.6,
                            theta=4.712389, theta2=6.283185).encode(
        x=alt.value(-48), y=alt.value(-14)),
]
panel_a = pa.chart()

# ---------------------------------------------------------------- (e)
WE, HE = 319, 231
pe = Panel(WE, HE, [-0.1, 0.2], [0, 1],
           x_axis([-0.1, -0.05, 0, 0.05, 0.1, 0.15, 0.2], "x", PLAIN_EXPR, 3, 24),
           y_axis([0, 0.2, 0.4, 0.6, 0.8, 1], "F(x)", PLAIN_EXPR, -36, HE, pad=11))
pe.ticks(seq(-0.1, 0.2, 0.01), seq(0, 1, 0.05), 3.5)
pe.series(frame_df(MC_CDF_X, MC_CDF_Y), "MC", 36, line=False)
for nm, mx, my, lx, ly in [("SP", SP_CDF_X, SP_CDF_Y, SP_CDF_LINE_X, SP_CDF_LINE_Y),
                           ("HEnt-SP", HENT_CDF_X, HENT_CDF_Y, HENT_CDF_LINE_X, HENT_CDF_LINE_Y),
                           ("Ent-SP", ENT_CDF_X, ENT_CDF_Y, ENT_CDF_LINE_X, ENT_CDF_LINE_Y)]:
    mdf = frame_df(mx, my)
    ldf = pd.concat([mdf, frame_df(lx, ly)]).sort_values(["x", "y"])
    pe.series(mdf, nm, 36, line_df=ldf)
pe.caption("(e) CDF at surface coordinate (0.1223, -0.0416)", 39)
fig_df = pd.DataFrame({"a": [FIG_LABEL], "b": [FIG_TEXT]})
pe.layers.append(alt.Chart(fig_df).mark_text(align="left", baseline="alphabetic", font=CAPFONT,
                                             fontSize=17.5, fontWeight="bold", color="#1a1a1a").encode(
    x=alt.value(-39), y=alt.value(310), text="a:N"))
pe.layers.append(alt.Chart(fig_df).mark_text(align="left", baseline="alphabetic", font=CAPFONT,
                                             fontSize=17.2, color="#1a1a1a").encode(
    x=alt.value(28), y=alt.value(310), text="b:N"))
panel_e = pe.chart()

# ---------------------------------------------------------------- (b)
WB, HB = 500, 230
pb = Panel(WB, HB, [-1, 1], [0, 0.3],
           x_axis(SURF_X, "x/c", ABS_EXPR, 7, 28),
           y_axis([0, 0.05, 0.1, 0.15, 0.2, 0.25, 0.3], "σCₚ", PLAIN_EXPR, -39, HB))
pb.ticks(seq(-1, 1, 0.05), seq(0, 0.3, 0.01), 5)
pb.series(frame_df(MC_STD_X, MC_STD_Y), "MC", 38, line=False)
pb.series(frame_df(SP_STD_X, SP_STD_Y), "SP", 36, step=6)
pb.series(frame_df(ENT_STD_X, ENT_STD_Y), "Ent-SP", 36, step=6)
pb.series(frame_df(HENT_STD_X, HENT_STD_Y), "HEnt-SP", 36, step=6)
pb.caption("(b) standard deviation of Cₚ", 43)
# legend box
pb.layers.append(alt.Chart(ONE).mark_rect(fill="white", stroke="#333333", strokeWidth=1).encode(
    x=alt.value(399), x2=alt.value(490), y=alt.value(9), y2=alt.value(74)))
leg = pd.DataFrame({"name": SERIES})
for i, nm in enumerate(SERIES):
    row = leg.iloc[[i]]
    yy = 18 + 15.5 * i
    if nm != "MC":
        pb.layers.append(alt.Chart(row).mark_rule(color=COLORS[nm], strokeWidth=1.4).encode(
            x=alt.value(404), x2=alt.value(440), y=alt.value(yy)))
        pb.layers.append(alt.Chart(row).mark_point(shape=SHAPES[nm], filled=True, color=COLORS[nm],
                                                   size=36 * SIZE_K[nm], opacity=1).encode(
            x=alt.value(421), y=alt.value(yy)))
    else:
        pb.layers.append(alt.Chart(row).mark_point(shape="circle", filled=True, fill=MC_FILL,
                                                   stroke=MC_EDGE, strokeWidth=0.9, size=55,
                                                   opacity=1).encode(
            x=alt.value(421), y=alt.value(yy)))
    pb.layers.append(alt.Chart(row).mark_text(align="left", baseline="middle", font=SANS,
                                              fontSize=12.5, color="#111111").encode(
        x=alt.value(443), y=alt.value(yy), text="name:N"))
panel_b = pb.chart()

# ---------------------------------------------------------------- (c)
WC, HC = 500, 104
pc = Panel(WC, HC, [-1, 1], [0, 1.6],
           x_axis(SURF_X, "x/c", ABS_EXPR, 0, 21),
           y_axis([0, 0.4, 0.8, 1.2, 1.6], "ℰᵣ", PLAIN_EXPR, -40, HC))
pc.ticks(seq(-1, 1, 0.05), seq(0, 1.6, 0.1), 5)
pc.series(frame_df(CPERR_X, SP_CPERR_Y), "SP", 26, step=9)
pc.series(frame_df(CPERR_X, ENT_CPERR_Y), "Ent-SP", 26, step=9)
pc.series(frame_df(HENT_CPERR_X, HENT_CPERR_Y), "HEnt-SP", 26, step=8)
pc.caption("(c) Cₚ Relative Error", 39)
panel_c = pc.chart()

# ---------------------------------------------------------------- (d)
WD, HD = 500, 101
pd_ = Panel(WD, HD, [-1, 1], [0, 9],
            x_axis(SURF_X, "x/c", ABS_EXPR, 4, 24),
            y_axis([0, 4, 8], "ℰᵣ", PLAIN_EXPR, -24, HD))
pd_.ticks(seq(-1, 1, 0.05), seq(0, 9, 1), 5)
pd_.series(frame_df(SP_STDERR_X, SP_STDERR_Y), "SP", 30, step=8)
pd_.series(frame_df(ENT_STDERR_X, ENT_STDERR_Y), "Ent-SP", 30, step=4)
pd_.series(frame_df(HENT_STDERR_X, HENT_STDERR_Y), "HEnt-SP", 30, step=5)
pd_.caption("(d) Cₚ std Relative Error", 39)
panel_d = pd_.chart()

# ---------------------------------------------------------------- layout
# flush bounds: nested columns count as zero width, so the column gap is the full offset
left = alt.vconcat(panel_a, panel_e, spacing=90, bounds="flush")
right = alt.vconcat(panel_b, panel_c, panel_d, spacing=58, bounds="flush")
chart = alt.hconcat(left, right, spacing=387, bounds="flush").properties(
    padding={"left": 8, "top": 10, "right": 0, "bottom": 0}, background="white"
).configure_view(stroke=FRAME, strokeWidth=1, fill="white")

chart.save("out.html", embed_options={"renderer": "svg", "actions": False})
